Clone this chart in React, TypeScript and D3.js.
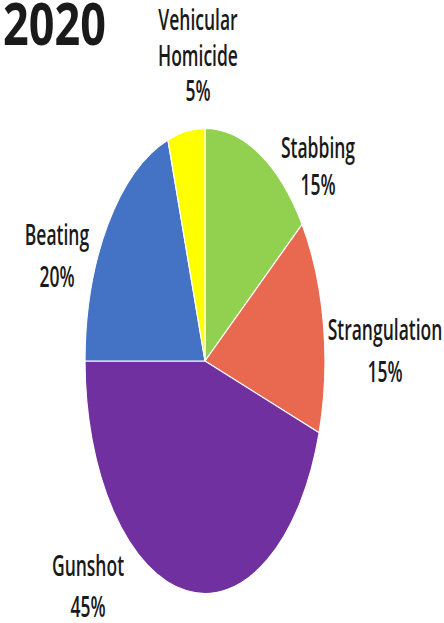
import React from "react";
import * as d3 from "d3";

const title = "2020";
const categories = ["Stabbing", "Strangulation", "Gunshot", "Beating", "Vehicular Homicide"];
const values = [15, 15, 45, 20, 5];
const colors = ["#92D050", "#E8694F", "#7030A0", "#4472C4", "#FFFF00"];
const labelLines = [["Stabbing"], ["Strangulation"], ["Gunshot"], ["Beating"], ["Vehicular", "Homicide"]];

// layout (pixel space)
const W = 444;
const H = 623;
const cx = 205;
const cy = 361;
const rx = 120;
const ry = 232.5;
const labelLayout = [
  { x: 318, y: 158, dy: 37 },
  { x: 385, y: 340, dy: 42 },
  { x: 88, y: 576, dy: 41 },
  { x: 57, y: 245, dy: 42 },
  { x: 198, y: 30, dy: 35.5 },
];

export default function App() {
  const k = ry / rx;
  const pie = d3.pie<number>().sort(null).value((d) => d);
  const arcs = pie(values);
  const arc = d3.arc<d3.PieArcDatum<number>>().innerRadius(0).outerRadius(rx);
  const fmt = (v: number) => `${v}%`;
  const font = "'Open Sans', 'DejaVu Sans', sans-serif";

  return (
    <svg
      width={W}
      height={H}
      style={{ position: "absolute", left: 0, top: 0, background: "#fff" }}
    >
      <rect width={W} height={H} fill="#fff" />
      <g transform={`translate(${cx},${cy}) scale(1,${k})`}>
        {arcs.map((a, i) => (
          <path
            key={i}
            d={arc(a) || ""}
            fill={colors[i]}
            stroke="#fff"
            strokeWidth={1.2}
            vectorEffect="non-scaling-stroke"
          />
        ))}
      </g>
      <text
        transform={`translate(3,45) scale(1,1.33)`}
        fontFamily={font}
        fontWeight={700}
        fontSize={45}
        fill="#1a1a1a"
      >
        {title}
      </text>
      {categories.map((c, i) => {
        const L = labelLayout[i];
        const lines = [...labelLines[i], fmt(values[i])];
        return (
          <g key={c}>
            {lines.map((t, j) => (
              <text
                key={j}
                transform={`translate(${L.x},${L.y + j * L.dy}) scale(1,1.6)`}
                textAnchor="middle"
                fontFamily={font}
                fontWeight={600}
                fontSize={17.5}
                fill="#1a1a1a"
              >
                {t}
              </text>
            ))}
          </g>
        );
      })}
    </svg>
  );
}
